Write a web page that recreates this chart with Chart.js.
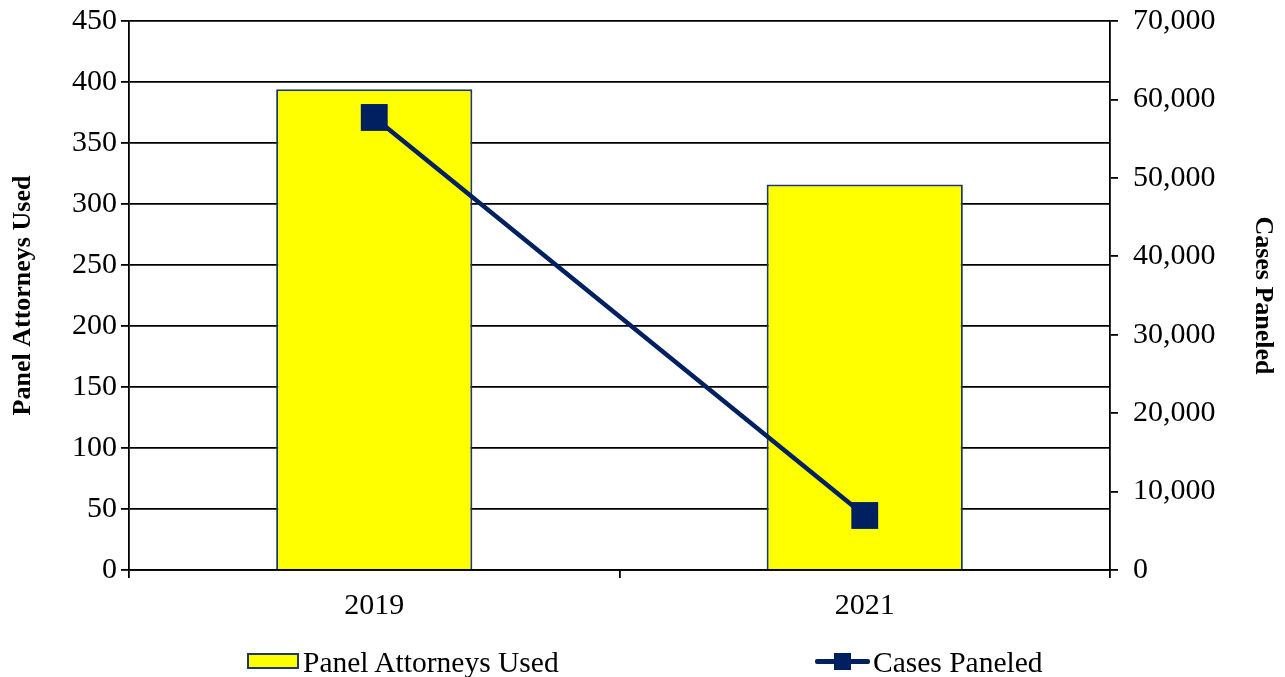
<!DOCTYPE html>
<html>
<head>
<meta charset="utf-8">
<script src="https://cdn.jsdelivr.net/npm/chart.js@4.4.1/dist/chart.umd.min.js"></script>
<style>
    html, body { margin: 0; padding: 0; background: #fff; }
    #wrap { position: relative; width: 1285px; height: 677px; }
    #chart { position: absolute; left: 0; top: 0; }
    .legend-text {
        position: absolute;
        font-family: 'Liberation Serif', 'Times New Roman', serif;
        font-size: 29.5px;
        line-height: 29px;
        color: #000;
        white-space: nowrap;
    }
    .legend-box {
        position: absolute;
        left: 247px; top: 653px;
        width: 48px; height: 12px;
        background: #ffff00;
        border: 2px solid #1f3864;
    }
    .legend-line {
        position: absolute;
        left: 815px; top: 659px;
        width: 55px; height: 5px;
        background: #002060;
        border-radius: 2px;
    }
    .legend-mark {
        position: absolute;
        left: 834px; top: 653px;
        width: 17px; height: 17px;
        background: #002060;
    }
</style>
</head>
<body>
<div id="wrap">
    <canvas id="chart" width="1285" height="677"></canvas>
    <div class="legend-box"></div>
    <div class="legend-text" style="left: 303px; top: 648px;">Panel Attorneys Used</div>
    <div class="legend-line"></div>
    <div class="legend-mark"></div>
    <div class="legend-text" style="left: 873px; top: 648px;">Cases Paneled</div>
</div>
<script>
// Chart data
const years = ['2019', '2021'];
const panelAttorneys = [394, 316];
const casesPaneled = [57700, 6950];

const FONT = "'Liberation Serif', 'Times New Roman', serif";
const NAVY = '#002060';

// Fixed axis sizes so the plot area lines up with the reference
const fixWidth = w => scale => {
    scale.width = w;
    scale.paddingTop = 0;
    scale.paddingBottom = 0;
};
const fixHeight = h => scale => {
    scale.height = h;
    scale.paddingLeft = 0;
    scale.paddingRight = 0;
};

function initChart() {
    const ctx = document.getElementById('chart').getContext('2d');
    new Chart(ctx, {
        data: {
            labels: years,
            datasets: [
                {
                    type: 'line',
                    label: 'Cases Paneled',
                    data: casesPaneled,
                    yAxisID: 'y1',
                    borderColor: NAVY,
                    backgroundColor: NAVY,
                    borderWidth: 4.5,
                    tension: 0,
                    pointStyle: 'rect',
                    pointRadius: 19,
                    pointHoverRadius: 19,
                    pointBackgroundColor: NAVY,
                    pointBorderColor: NAVY,
                    pointBorderWidth: 0,
                    order: 1
                },
                {
                    type: 'bar',
                    label: 'Panel Attorneys Used',
                    data: panelAttorneys,
                    yAxisID: 'y',
                    backgroundColor: '#ffff00',
                    borderColor: '#1f3864',
                    borderWidth: 2,
                    barPercentage: 0.4,
                    categoryPercentage: 1,
                    order: 2
                }
            ]
        },
        options: {
            responsive: false,
            animation: false,
            layout: { padding: { top: 21, left: 0, right: 0, bottom: 0 } },
            plugins: {
                legend: { display: false },
                tooltip: { enabled: false }
            },
            scales: {
                x: {
                    afterFit: fixHeight(107),
                    grid: {
                        offset: true,
                        drawOnChartArea: false,
                        color: '#000',
                        lineWidth: 1.8,
                        tickLength: 8
                    },
                    border: { color: '#000', width: 1.8 },
                    ticks: {
                        color: '#000',
                        padding: 10,
                        font: { family: FONT, size: 30 }
                    }
                },
                y: {
                    position: 'left',
                    min: 0,
                    max: 450,
                    afterFit: fixWidth(129),
                    grid: { color: '#000', lineWidth: 1.8, tickLength: 8 },
                    border: { color: '#000', width: 1.8 },
                    ticks: {
                        stepSize: 50,
                        color: '#000',
                        padding: 4,
                        font: { family: FONT, size: 30 }
                    },
                    title: {
                        display: true,
                        text: 'Panel Attorneys Used',
                        color: '#000',
                        padding: { top: 8, bottom: 0 },
                        font: { family: FONT, size: 26, weight: 'bold' }
                    }
                },
                y1: {
                    position: 'right',
                    min: 0,
                    max: 70000,
                    afterFit: fixWidth(175),
                    grid: { drawOnChartArea: false, color: '#000', lineWidth: 1.8, tickLength: 8 },
                    border: { color: '#000', width: 1.8 },
                    ticks: {
                        stepSize: 10000,
                        color: '#000',
                        padding: 15,
                        font: { family: FONT, size: 30 },
                        callback: v => v.toLocaleString('en-US')
                    },
                    title: {
                        display: true,
                        text: 'Cases Paneled',
                        color: '#000',
                        padding: { top: 7, bottom: 0 },
                        font: { family: FONT, size: 26, weight: 'bold' }
                    }
                }
            }
        }
    });
}

initChart();
</script>
</body>
</html>
